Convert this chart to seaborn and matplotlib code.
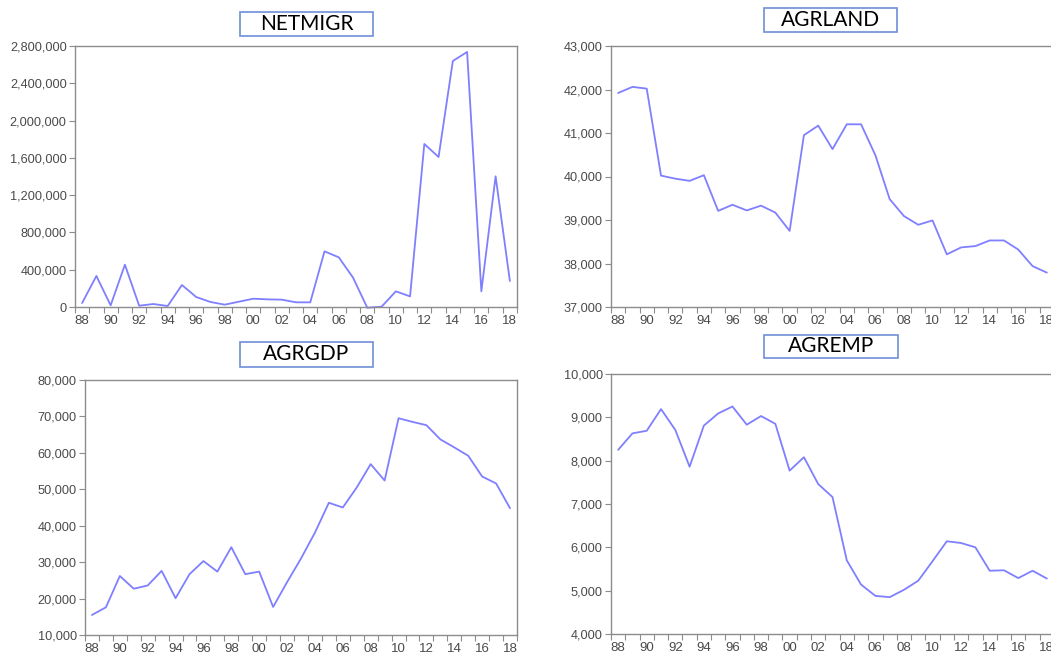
import numpy as np
import matplotlib
matplotlib.use("Agg")
import matplotlib.pyplot as plt
import matplotlib.ticker as mticker
from matplotlib.patches import Rectangle
import seaborn as sns

# data (annual, 1988-2018)
years = list(range(1988, 2019))

netmigr = [43000, 333000, 18000, 454000, 14000, 32000, 11000, 236000, 107000, 54000,
           25000, 57000, 89000, 82000, 79000, 50000, 50000, 597000, 533000, 315000,
           -8000, 3000, 168000, 114000, 1749000, 1609000, 2639000, 2736000, 168000,
           1402000, 279000]

agrland = [41920, 42060, 42020, 40020, 39950, 39900, 40030, 39210, 39350, 39220,
           39330, 39170, 38750, 40950, 41170, 40630, 41200, 41200, 40490, 39480,
           39090, 38890, 38990, 38210, 38370, 38400, 38530, 38530, 38320, 37940,
           37790]

agrgdp = [15500, 17600, 26200, 22700, 23600, 27600, 20100, 26700, 30300, 27400,
          34100, 26700, 27400, 17700, 24500, 31000, 38100, 46300, 45000, 50500,
          56900, 52400, 69500, 68500, 67600, 63700, 61500, 59200, 53500, 51600,
          44800]

agremp = [8250, 8630, 8690, 9190, 8710, 7860, 8810, 9090, 9250, 8830,
          9030, 8850, 7770, 8080, 7460, 7160, 5700, 5140, 4880, 4850,
          5020, 5230, 5680, 6140, 6100, 6000, 5460, 5470, 5290, 5460,
          5280]

titles = ["NETMIGR", "AGRLAND", "AGRGDP", "AGREMP"]
series = [netmigr, agrland, agrgdp, agremp]
ylims = [(0, 2800000), (37000, 43000), (10000, 80000), (4000, 10000)]
ysteps = [400000, 1000, 10000, 1000]

sns.set_style("white")
plt.rcParams['font.family'] = ['Liberation Sans', 'DejaVu Sans']

W, H = 1051, 655
fig = plt.figure(figsize=(W / 100, H / 100), dpi=100)

# axes boxes in pixels: left, top, right, bottom
boxes = [(75, 46, 517, 307), (611, 46, 1054, 307),
         (85, 380, 517, 635), (611, 374, 1054, 634)]
# title boxes in pixels: left, top, right, bottom
tboxes = [(240, 12, 373, 36), (764, 8, 897, 32),
          (240, 342, 373, 367), (764, 335, 898, 358)]

line_col = "#7f7fff"
spine_col = "#8c8c8c"
label_col = "#4a4a4a"

for name, vals, yl, step, b, tb in zip(titles, series, ylims, ysteps, boxes, tboxes):
    l, t, r, bt = b
    ax = fig.add_axes([l / W, 1 - bt / H, (r - l) / W, (bt - t) / H])
    sns.lineplot(x=years, y=vals, ax=ax, color=line_col, linewidth=1.3)
    for ln in ax.lines:
        ln.set_clip_on(False)
    ax.set_xlim(1987.5, 2018.5)
    ax.set_ylim(*yl)
    ax.set_yticks(np.arange(yl[0], yl[1] + step / 2, step))
    ax.yaxis.set_major_formatter(mticker.FuncFormatter(lambda v, p: f"{v:,.0f}"))
    ax.set_xticks(years[::2])
    ax.set_xticklabels([f"{y % 100:02d}" for y in years[::2]])
    ax.xaxis.set_minor_locator(mticker.FixedLocator(np.arange(1987.5, 2019, 1)))
    ax.tick_params(axis="x", which="major", length=0, pad=6, labelsize=9.5, labelcolor=label_col)
    ax.tick_params(axis="x", which="minor", length=4, width=0.8, color=spine_col, direction="out", bottom=True)
    ax.tick_params(axis="y", length=4, width=0.8, color=spine_col, direction="out", left=True,
                   pad=2, labelsize=9.2, labelcolor=label_col)
    for s in ax.spines.values():
        s.set_color(spine_col)
        s.set_linewidth(1.0)
    ax.set_xlabel("")
    ax.set_ylabel("")

    # title box
    x0, y0, x1, y1 = tb
    fig.patches.append(Rectangle((x0 / W, 1 - y1 / H), (x1 - x0) / W, (y1 - y0) / H,
                                 transform=fig.transFigure, facecolor="white",
                                 edgecolor="#6f8fd6", linewidth=1.2))
    fig.text((x0 + x1) / 2 / W, 1 - (y0 + y1) / 2 / H, name, ha="center", va="center",
             fontsize=15, color="black", family=["Lato", "DejaVu Sans"])

fig.savefig("out.png", dpi=100)
